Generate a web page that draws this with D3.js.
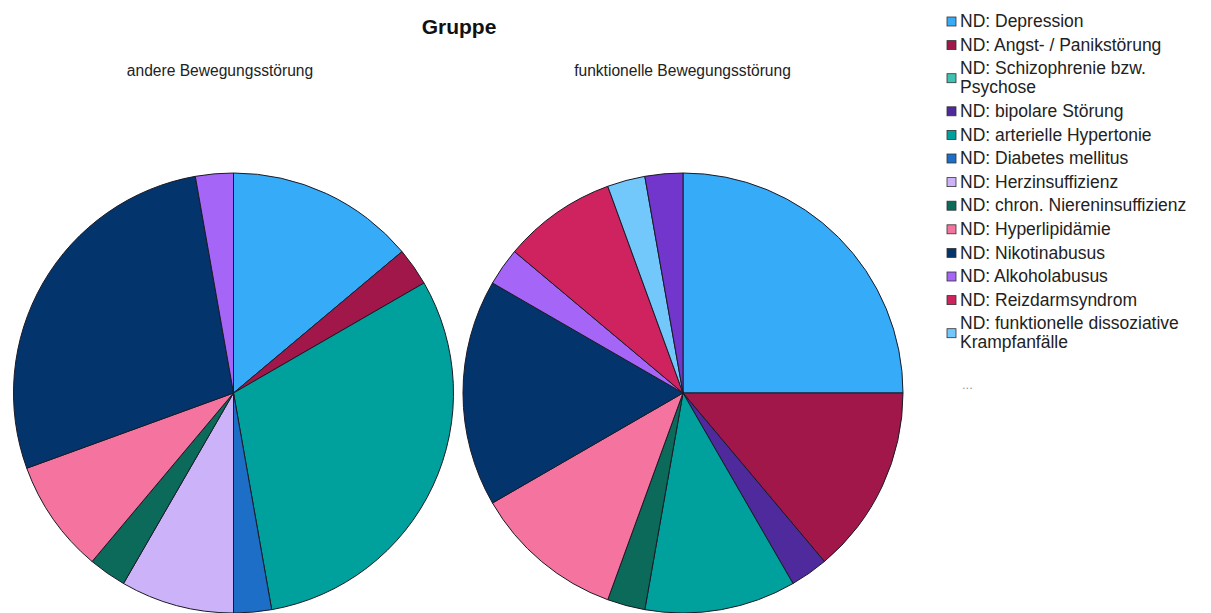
<!DOCTYPE html>
<html><head><meta charset="utf-8">
<script src="https://cdn.jsdelivr.net/npm/d3@7/dist/d3.min.js"></script>
<style>
html,body{margin:0;padding:0;background:#fff;}
svg{display:block;font-family:"Liberation Sans",Arial,sans-serif;}
</style></head>
<body><svg id="chart" width="1211" height="613"></svg>
<script>
// ---- data ----
const title = "Gruppe";
const groups = ["andere Bewegungsstörung", "funktionelle Bewegungsstörung"];
const categories = [
  "ND: Depression",
  "ND: Angst- / Panikstörung",
  "ND: Schizophrenie bzw. Psychose",
  "ND: bipolare Störung",
  "ND: arterielle Hypertonie",
  "ND: Diabetes mellitus",
  "ND: Herzinsuffizienz",
  "ND: chron. Niereninsuffizienz",
  "ND: Hyperlipidämie",
  "ND: Nikotinabusus",
  "ND: Alkoholabusus",
  "ND: Reizdarmsyndrom",
  "ND: funktionelle dissoziative Krampfanfälle",
  "ND: (weitere)"
];
const legendShown = 13; // remaining categories hidden behind "..."
const colors = ["#36acf8","#a1174a","#3fc2b2","#4f2a9c","#00a09c","#1c6ec6","#ccb2f8","#0b6a5a","#f5749f","#03356c","#a566f7","#cf2360","#72c7fb","#7236cc"];
const valuesAndere       = [5, 1, 0, 0, 11, 1, 3, 1, 3, 10, 1, 0, 0, 0];
const valuesFunktionelle = [9, 5, 0, 1, 4, 0, 0, 1, 4, 6, 1, 3, 1, 1];
const seriesValues = [valuesAndere, valuesFunktionelle];

// ---- drawing ----
const svg = d3.select("#chart");
const color = d3.scaleOrdinal(categories, colors);

svg.append("text").attr("x", 459).attr("y", 34).attr("text-anchor", "middle")
  .attr("font-size", 21).attr("font-weight", "bold").attr("fill", "#111").text(title);

const centers = [{x: 233.5, y: 393, lx: 220}, {x: 683, y: 393, lx: 682.5}];
const radius = 220;
const pie = d3.pie().sort(null).value(d => d.v);
const arc = d3.arc().innerRadius(0).outerRadius(radius);

groups.forEach((g, gi) => {
  const c = centers[gi];
  svg.append("text").attr("x", c.lx).attr("y", 76).attr("text-anchor", "middle")
    .attr("font-size", 15.6).attr("fill", "#222").text(g);
  const data = categories.map((k, i) => ({k, v: seriesValues[gi][i]})).filter(d => d.v > 0);
  const gg = svg.append("g").attr("transform", `translate(${c.x},${c.y})`);
  gg.selectAll("path").data(pie(data)).join("path")
    .attr("d", arc).attr("fill", d => color(d.data.k))
    .attr("stroke", "#1a1a26").attr("stroke-width", 1).attr("stroke-linejoin", "round");
});

// legend
const lg = svg.append("g");
const lx = 947, tx = 960, step = 23.6, lineGap = 19, maxW = 245;
let y = 21;
categories.slice(0, legendShown).forEach((k) => {
  const t = lg.append("text").attr("x", tx).attr("font-size", 17.5).attr("fill", "#222");
  const words = k.split(" ");
  let lines = [], cur = "";
  words.forEach(w => {
    const test = cur ? cur + " " + w : w;
    t.text(test);
    if (t.node().getComputedTextLength() > maxW && cur) { lines.push(cur); cur = w; }
    else cur = test;
  });
  lines.push(cur);
  t.text(null);
  lines.forEach((ln, li) => {
    t.append("tspan").attr("x", tx).attr("y", y + li * lineGap).attr("dy", "0.35em").text(ln);
  });
  const mid = y + (lines.length - 1) * lineGap / 2;
  lg.append("rect").attr("x", lx).attr("y", mid - 4).attr("width", 9).attr("height", 9)
    .attr("fill", color(k)).attr("stroke", "#333").attr("stroke-width", 0.8);
  y += step + (lines.length - 1) * lineGap;
});
lg.append("text").attr("x", tx + 2).attr("y", y + 23).attr("font-size", 13).attr("fill", "#999").text("...");
</script></body></html>
